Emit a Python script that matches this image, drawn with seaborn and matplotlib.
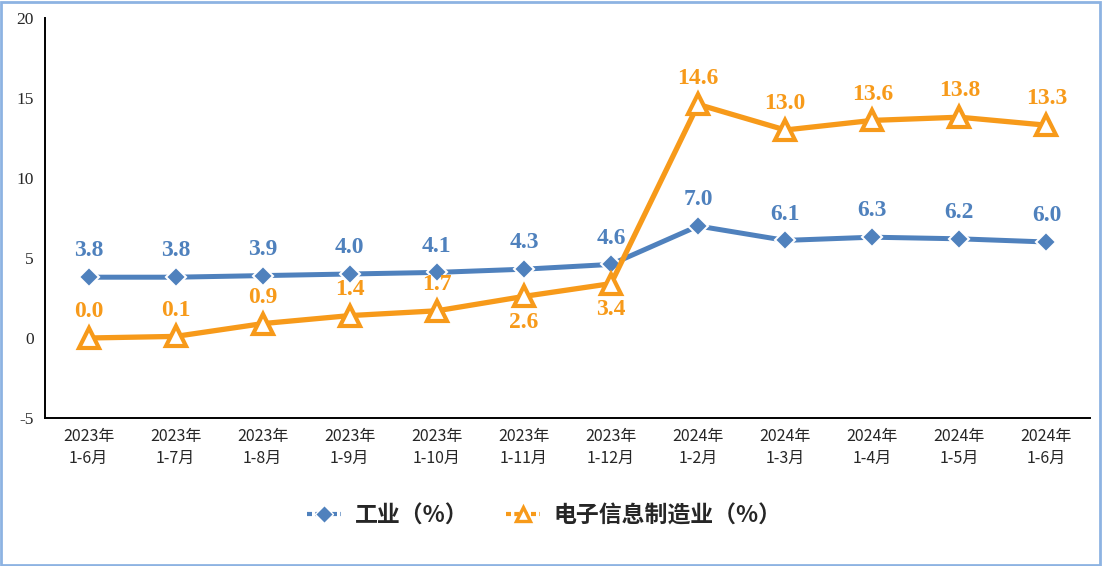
import numpy as np
import pandas as pd
import matplotlib
matplotlib.use("Agg")
import matplotlib.pyplot as plt
from matplotlib.lines import Line2D
from matplotlib.patches import Rectangle
import seaborn as sns

months = ["2023年\n1-6月", "2023年\n1-7月", "2023年\n1-8月", "2023年\n1-9月", "2023年\n1-10月",
          "2023年\n1-11月", "2023年\n1-12月", "2024年\n1-2月", "2024年\n1-3月", "2024年\n1-4月",
          "2024年\n1-5月", "2024年\n1-6月"]
industry = [3.8, 3.8, 3.9, 4.0, 4.1, 4.3, 4.6, 7.0, 6.1, 6.3, 6.2, 6.0]
electronics = [0.0, 0.1, 0.9, 1.4, 1.7, 2.6, 3.4, 14.6, 13.0, 13.6, 13.8, 13.3]
elec_below = [5, 6]  # labels placed under the point

blue = "#4F81BD"
orange = "#F79A1A"

sns.set_style("white")
plt.rcParams['font.family'] = ['Noto Sans CJK SC', 'DejaVu Sans']

df = pd.DataFrame({"pos": np.arange(len(months)), "industry": industry, "electronics": electronics})

fig = plt.figure(figsize=(11.02, 5.66), dpi=100)
ax = fig.add_axes([45/1102, 1 - 418/566, 1045/1102, 400/566])

sns.lineplot(data=df, x="pos", y="industry", ax=ax, color=blue, lw=3.6, marker="D",
             markersize=10, markerfacecolor=blue, markeredgecolor="white", markeredgewidth=1.5, zorder=3)
sns.lineplot(data=df, x="pos", y="electronics", ax=ax, color=orange, lw=3.8, marker="^",
             markersize=15, markerfacecolor="white", markeredgecolor=orange, markeredgewidth=3, zorder=4)

num_font = dict(family="Liberation Serif", fontsize=17, fontweight="bold")
for i, v in enumerate(industry):
    ax.annotate(f"{v:.1f}", (i, v), xytext=(0, 19), textcoords="offset points",
                ha="center", va="center", color=blue, **num_font)
for i, v in enumerate(electronics):
    off = -19 if i in elec_below else 19
    ax.annotate(f"{v:.1f}", (i, v), xytext=(0, off), textcoords="offset points",
                ha="center", va="center", color=orange, **num_font)

ax.set_xlim(-0.5, len(months) - 0.5)
ax.set_ylim(-5, 20)
ax.set_yticks([-5, 0, 5, 10, 15, 20])
ax.set_yticklabels(["-5", "0", "5", "10", "15", "20"], family="Liberation Serif", fontsize=12.5)
ax.set_xticks(df["pos"])
ax.set_xticklabels(months, fontsize=11.5, linespacing=1.4)
ax.tick_params(axis="y", length=0, pad=8)
ax.tick_params(axis="x", length=0, pad=7)
ax.set_xlabel("")
ax.set_ylabel("")
for s in ["top", "right"]:
    ax.spines[s].set_visible(False)
for s in ["left", "bottom"]:
    ax.spines[s].set_color("black")
    ax.spines[s].set_linewidth(1.4)

handles = [
    Line2D([], [], color=blue, lw=3, ls=(0, (1.2, 0.8)), marker="D", markersize=9,
           markerfacecolor=blue, markeredgecolor="white", markeredgewidth=1),
    Line2D([], [], color=orange, lw=3, ls=(0, (1.2, 0.8)), marker="^", markersize=10,
           markerfacecolor="white", markeredgecolor=orange, markeredgewidth=2.4),
]
fig.legend(handles, ["工业（%）", "电子信息制造业（%）"], loc="center", bbox_to_anchor=(0.494, 1 - 516/566),
           ncol=2, frameon=False, handlelength=1.5, handletextpad=0.6, columnspacing=1.6,
           prop={"family": ["Noto Sans CJK SC"], "size": 16.5, "weight": "bold"})

fig.patches.append(Rectangle((0.001, 0.002), 0.997, 0.995, transform=fig.transFigure,
                             fill=False, edgecolor="#8DB3E2", lw=2))

fig.savefig("out.png", dpi=100)
